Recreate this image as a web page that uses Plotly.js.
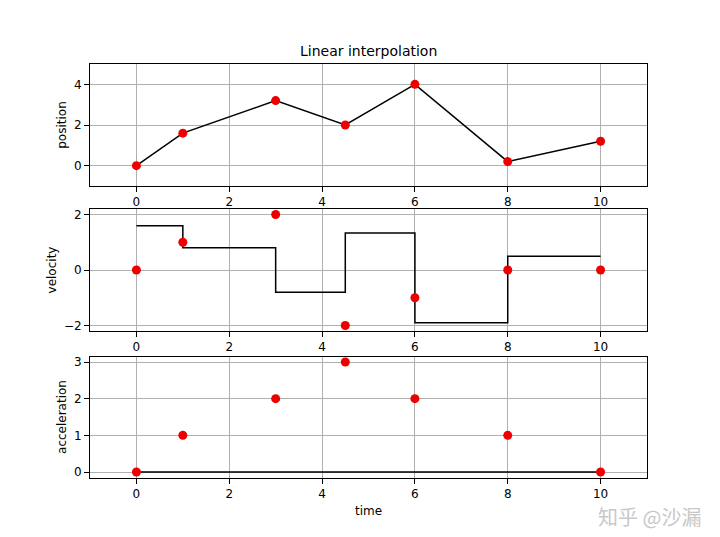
<!DOCTYPE html>
<html>
<head>
<meta charset="utf-8">
<script src="https://cdn.plot.ly/plotly-3.0.1.min.js"></script>
<style>html,body{margin:0;padding:0;background:#fff;}#chart{width:720px;height:537px;}</style>
</head>
<body>
<div id="chart"></div>
<script>
// Data
const times = [0, 1, 3, 4.5, 6, 8, 10];
const positions = [0, 1.6, 3.2, 2, 4, 0.2, 1.2];
const velocities = [0, 1, 2, -2, -1, 0, 0];
const accelerations = [0, 1, 2, 3, 2, 1, 0];
// Piecewise-constant velocity of the linear interpolation (step, post)
const velocityStep = [1.6, 0.8, -0.8, 1.33, -1.9, 0.5, 0.5];
// Acceleration of linear interpolation
const accelerationLine = [0, 0, 0, 0, 0, 0, 0];
const xTicks = [0, 2, 4, 6, 8, 10];

const fontFam = 'DejaVu Sans, sans-serif';
const lineStyle = {color: '#000000', width: 1.5};
const markerStyle = {color: '#ee0000', size: 9};

const traces = [
  {x: times, y: positions, mode: 'lines', line: lineStyle, xaxis: 'x', yaxis: 'y'},
  {x: times, y: positions, mode: 'markers', marker: markerStyle, xaxis: 'x', yaxis: 'y'},
  {x: times, y: velocityStep, mode: 'lines', line: Object.assign({shape: 'hv'}, lineStyle), xaxis: 'x2', yaxis: 'y2'},
  {x: times, y: velocities, mode: 'markers', marker: markerStyle, xaxis: 'x2', yaxis: 'y2'},
  {x: times, y: accelerationLine, mode: 'lines', line: lineStyle, xaxis: 'x3', yaxis: 'y3'},
  {x: times, y: accelerations, mode: 'markers', marker: markerStyle, xaxis: 'x3', yaxis: 'y3'}
];

function xax(anchor) {
  return {
    domain: [0.125, 0.8986], range: [-1, 11], anchor: anchor,
    tickvals: xTicks, ticktext: xTicks.map(String),
    ticks: 'outside', ticklen: 5, tickcolor: '#000', tickwidth: 1,
    showgrid: true, gridcolor: '#b0b0b0', gridwidth: 1,
    showline: true, linecolor: '#000', linewidth: 1, mirror: true,
    zeroline: false, tickfont: {family: fontFam, size: 12, color: '#000'}
  };
}
function yax(anchor, domain, range, ticks, label) {
  return {
    domain: domain, range: range, anchor: anchor,
    tickvals: ticks, ticktext: ticks.map(v => v < 0 ? '\u2212' + Math.abs(v) : String(v)),
    ticks: 'outside', ticklen: 5, tickcolor: '#000', tickwidth: 1,
    showgrid: true, gridcolor: '#b0b0b0', gridwidth: 1,
    showline: true, linecolor: '#000', linewidth: 1, mirror: true,
    zeroline: false, tickfont: {family: fontFam, size: 12, color: '#000'},
    title: {text: label, font: {family: fontFam, size: 12, color: '#000'}, standoff: 4}
  };
}

const x3 = xax('y3');
x3.title = {text: 'time', font: {family: fontFam, size: 12, color: '#000'}, standoff: 6};

const layout = {
  width: 720, height: 537,
  margin: {l: 0, r: 0, t: 0, b: 0},
  paper_bgcolor: '#fff', plot_bgcolor: '#fff',
  showlegend: false,
  title: {text: 'Linear interpolation', font: {family: fontFam, size: 14, color: '#000'}, x: 0.512, xanchor: 'center', y: 1 - 51/537, yanchor: 'middle'},
  xaxis: xax('y'),
  yaxis: yax('x', [0.6536, 0.8808], [-1, 5], [0, 2, 4], 'position'),
  xaxis2: xax('y2'),
  yaxis2: yax('x2', [0.3836, 0.6108], [-2.2, 2.2], [-2, 0, 2], 'velocity'),
  xaxis3: x3,
  yaxis3: yax('x3', [0.1108, 0.3361], [-0.15, 3.15], [0, 1, 2, 3], 'acceleration'),
  annotations: [{
    text: '知乎 @沙漏', xref: 'paper', yref: 'paper', x: 0.977, y: 1 - 500/537,
    xanchor: 'right', yanchor: 'top', showarrow: false,
    font: {family: 'Noto Sans CJK SC, sans-serif', size: 20, color: '#c8c8c8'}
  }]
};

Plotly.newPlot('chart', traces, layout, {displayModeBar: false, staticPlot: true});
</script>
</body>
</html>
